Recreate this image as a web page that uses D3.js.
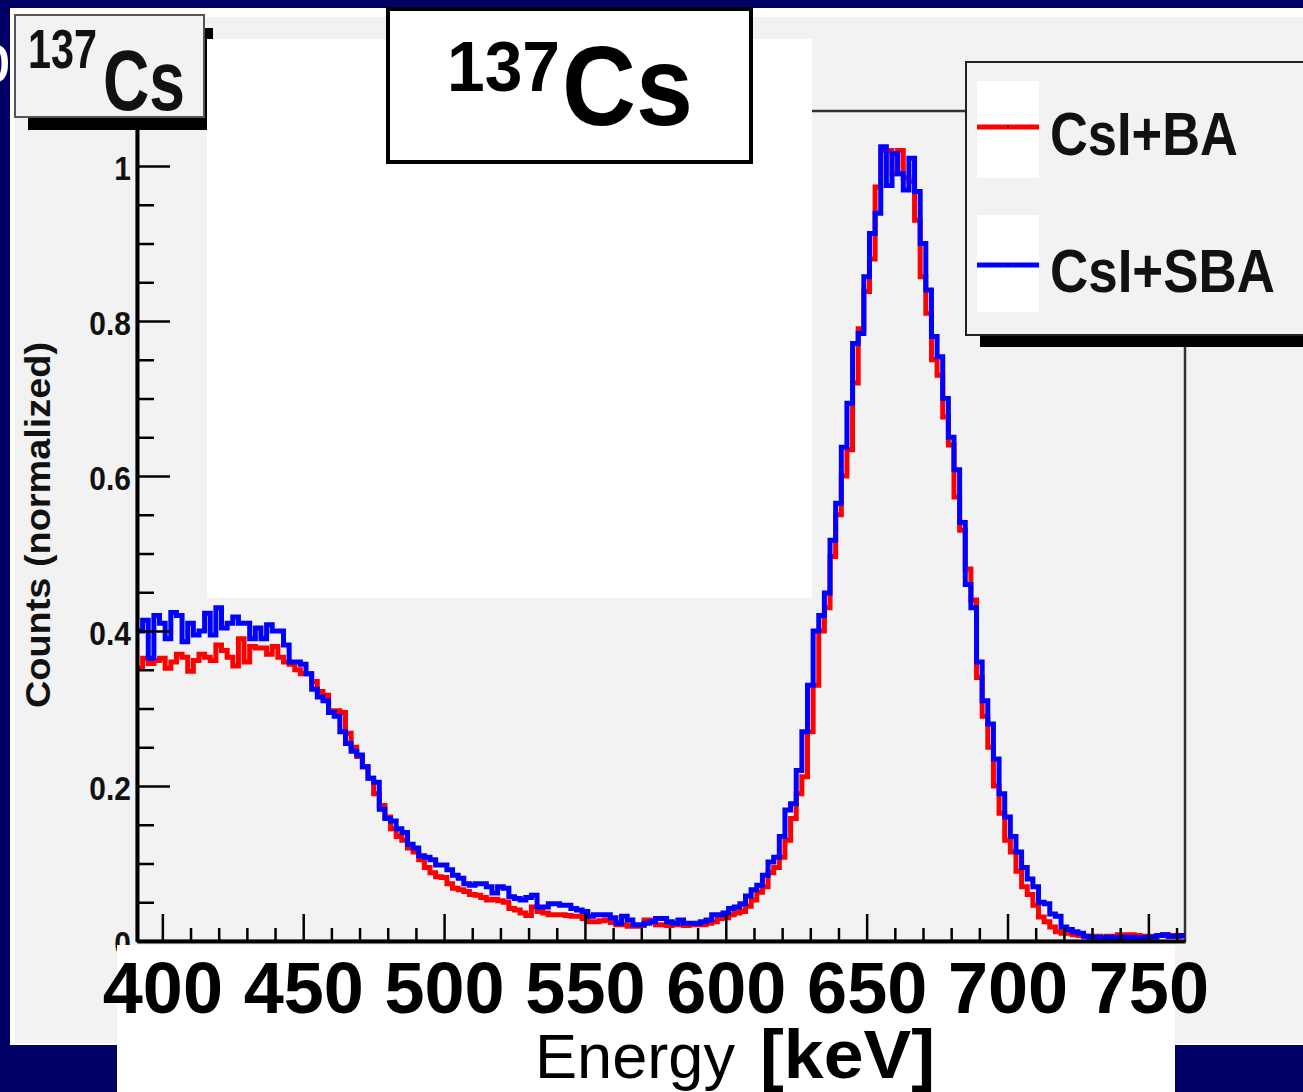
<!DOCTYPE html>
<html><head><meta charset="utf-8">
<script src="https://cdn.jsdelivr.net/npm/d3@7"></script>
<style>html,body{margin:0;padding:0;background:#000066;overflow:hidden}svg{display:block}</style>
</head><body>
<svg id="c" width="1303" height="1092"></svg>
<script>
// ---------- data ----------
const binStart = 391;   // keV, lower edge of first bin
const binWidth = 2;     // keV
const seriesNames = ["CsI+BA", "CsI+SBA"];
const seriesColors = ["#ff0000", "#0000ff"];
const countsBA = [
0.352,0.365,0.358,0.362,0.365,0.352,0.360,0.370,0.366,0.348,
0.362,0.370,0.366,0.362,0.382,0.375,0.366,0.355,0.390,0.360,
0.380,0.378,0.378,0.370,0.380,0.366,0.360,0.357,0.350,0.345,
0.345,0.335,0.322,0.317,0.297,0.297,0.295,0.268,0.250,0.238,
0.225,0.210,0.190,0.175,0.160,0.145,0.135,0.130,0.120,0.115,
0.105,0.095,0.088,0.083,0.082,0.074,0.068,0.066,0.064,0.060,
0.059,0.056,0.053,0.054,0.052,0.050,0.042,0.040,0.036,0.033,
0.044,0.038,0.036,0.034,0.034,0.034,0.033,0.032,0.032,0.029,
0.025,0.025,0.026,0.027,0.024,0.021,0.021,0.019,0.019,0.020,
0.027,0.026,0.021,0.021,0.020,0.021,0.021,0.020,0.021,0.021,
0.021,0.023,0.025,0.029,0.030,0.034,0.036,0.038,0.045,0.053,
0.063,0.070,0.088,0.095,0.108,0.130,0.158,0.190,0.212,0.270,
0.330,0.400,0.430,0.496,0.550,0.600,0.634,0.720,0.790,0.838,
0.880,0.973,1.020,1.020,0.990,1.020,0.985,0.980,0.930,0.857,
0.810,0.750,0.730,0.676,0.640,0.573,0.530,0.480,0.440,0.340,
0.290,0.250,0.200,0.165,0.130,0.115,0.090,0.070,0.060,0.046,
0.031,0.025,0.018,0.012,0.010,0.010,0.008,0.007,0.006,0.006,
0.006,0.005,0.006,0.006,0.008,0.008,0.008,0.007,0.006,0.006,
0.006,0.007,0.008,0.006,0.007,0.006];
const countsSBA = [
0.400,0.414,0.365,0.420,0.410,0.390,0.424,0.420,0.386,0.410,
0.395,0.400,0.423,0.395,0.430,0.404,0.410,0.418,0.410,0.410,
0.390,0.404,0.390,0.408,0.400,0.400,0.382,0.360,0.360,0.357,
0.345,0.325,0.315,0.310,0.295,0.290,0.270,0.255,0.245,0.240,
0.225,0.210,0.205,0.170,0.158,0.155,0.145,0.140,0.125,0.120,
0.110,0.108,0.105,0.098,0.098,0.092,0.085,0.081,0.074,0.072,
0.074,0.074,0.070,0.062,0.070,0.068,0.057,0.055,0.053,0.056,
0.059,0.044,0.044,0.048,0.048,0.046,0.046,0.042,0.040,0.038,
0.032,0.034,0.034,0.034,0.030,0.023,0.032,0.027,0.021,0.021,
0.023,0.025,0.029,0.029,0.025,0.023,0.027,0.023,0.023,0.023,
0.025,0.027,0.034,0.034,0.036,0.042,0.044,0.048,0.058,0.066,
0.072,0.085,0.102,0.108,0.135,0.169,0.177,0.220,0.270,0.330,
0.400,0.420,0.449,0.517,0.565,0.637,0.694,0.771,0.784,0.857,
0.913,0.939,1.025,0.975,1.016,0.990,0.969,1.010,0.967,0.900,
0.840,0.780,0.754,0.700,0.650,0.608,0.540,0.460,0.430,0.360,
0.310,0.280,0.235,0.190,0.160,0.135,0.115,0.095,0.080,0.070,
0.050,0.048,0.035,0.032,0.018,0.015,0.012,0.010,0.006,0.005,
0.005,0.004,0.005,0.004,0.005,0.004,0.005,0.004,0.004,0.005,
0.005,0.007,0.008,0.006,0.006,0.007];
const xTickValues = [400, 450, 500, 550, 600, 650, 700, 750];
const xTickLabels = ["400", "450", "500", "550", "600", "650", "700", "750"];
const yTickValues = [0, 0.2, 0.4, 0.6, 0.8, 1];
const yTickLabels = ["0", "0.2", "0.4", "0.6", "0.8", "1"];
const xDomain = [391, 763];
const yDomain = [0, 1.071];
const titleMass = "137", titleElement = "Cs";
const yTitle = "Counts (normalized)";
const xTitleWord = "Energy", xTitleUnit = "[keV]";

// ---------- drawing ----------
const FONT = "'Liberation Sans', Arial, Helvetica, sans-serif";
const svg = d3.select("#c");
const W = 1303, H = 1092;

svg.append("rect").attr("width", W).attr("height", H).attr("fill", "#000066");
svg.append("rect").attr("x", 10).attr("y", 8).attr("width", W).attr("height", 1037).attr("fill", "#ffffff");
svg.append("rect").attr("x", 15).attr("y", 17).attr("width", W).attr("height", 1026).attr("fill", "#f2f2f2");

// stray white glyph at the slide edge
svg.append("text").attr("x", -28).attr("y", 82).attr("fill", "#fff")
  .style("font", `70px ${FONT}`).text("b");

const x = d3.scaleLinear().domain(xDomain).range([137, 1185]);
const y = d3.scaleLinear().domain(yDomain).range([941, 111]);

// frame
svg.append("rect").attr("x", x(xDomain[0])).attr("y", y(yDomain[1]))
  .attr("width", x(xDomain[1]) - x(xDomain[0])).attr("height", y(0) - y(yDomain[1]))
  .attr("fill", "none").attr("stroke", "#333").attr("stroke-width", 2.5);

// histograms
function stepPoints(vals) {
  const pts = vals.map((v, i) => [binStart + i * binWidth, v]);
  pts.push([binStart + vals.length * binWidth, vals[vals.length - 1]]);
  return pts;
}
const line = d3.line().x(d => x(d[0])).y(d => y(d[1])).curve(d3.curveStepAfter);
[countsBA, countsSBA].forEach((vals, i) => {
  svg.append("path").attr("d", line(stepPoints(vals)))
    .attr("fill", "none").attr("stroke", seriesColors[i])
    .attr("stroke-width", 5).attr("stroke-linejoin", "miter");
});

// y axis
const yMinor = d3.range(0, 22).filter(i => i % 4 !== 0).map(i => i * 0.05).filter(v => v <= yDomain[1]);
svg.append("g").attr("transform", `translate(${x(xDomain[0])},0)`)
  .call(d3.axisLeft(y).tickValues(yMinor).tickSize(-17).tickSizeOuter(0).tickFormat(""))
  .call(g => g.select(".domain").remove())
  .call(g => g.selectAll(".tick line").attr("stroke", "#000").attr("stroke-width", 2.5));
const gy = svg.append("g").attr("transform", `translate(${x(xDomain[0])},0)`)
  .call(d3.axisLeft(y).tickValues(yTickValues).tickSize(-33).tickSizeOuter(0).tickPadding(7)
    .tickFormat((d, i) => yTickLabels[i]));
gy.select(".domain").attr("stroke", "#000").attr("stroke-width", 4);
gy.selectAll(".tick line").attr("stroke", "#000").attr("stroke-width", 2.5);
gy.selectAll(".tick text").attr("dy", "0.4em").attr("fill", "#111")
  .attr("transform", "scale(0.88,1)")
  .style("font", `bold 34px ${FONT}`);

// y title
svg.append("text").attr("transform", "translate(50,525) rotate(-90)")
  .attr("text-anchor", "middle").attr("fill", "#111")
  .attr("textLength", 366).attr("lengthAdjust", "spacingAndGlyphs")
  .style("font", `bold 35px ${FONT}`).text(yTitle);

// x axis ticks
const xMinor = d3.range(400, 761, 10).filter(v => v % 50 !== 0);
svg.append("g").attr("transform", `translate(0,${y(0)})`)
  .call(d3.axisBottom(x).tickValues(xMinor).tickSize(-13).tickSizeOuter(0).tickFormat(""))
  .call(g => g.select(".domain").remove())
  .call(g => g.selectAll(".tick line").attr("stroke", "#000").attr("stroke-width", 2.5));
const gxTicks = svg.append("g").attr("transform", `translate(0,${y(0)})`)
  .call(d3.axisBottom(x).tickValues(xTickValues).tickSize(-27).tickSizeOuter(0).tickFormat(""));
gxTicks.select(".domain").attr("stroke", "#000").attr("stroke-width", 4);
gxTicks.selectAll(".tick line").attr("stroke", "#000").attr("stroke-width", 2.5);

// small title pave (top-left)
svg.append("rect").attr("x", 28).attr("y", 28).attr("width", 185).attr("height", 102).attr("fill", "#000");
svg.append("rect").attr("x", 15).attr("y", 15).attr("width", 189).attr("height", 102)
  .attr("fill", "#f2f2f2").attr("stroke", "#555").attr("stroke-width", 2);
svg.append("text").attr("x", 28).attr("y", 68).attr("textLength", 69).attr("lengthAdjust", "spacingAndGlyphs")
  .style("font", `bold 56px ${FONT}`).attr("fill", "#111").text(titleMass);
svg.append("text").attr("x", 103).attr("y", 110).attr("textLength", 82).attr("lengthAdjust", "spacingAndGlyphs")
  .style("font", `bold 86px ${FONT}`).attr("fill", "#111").text(titleElement);

// white overlay block
svg.append("rect").attr("x", 207).attr("y", 39).attr("width", 605).attr("height", 559).attr("fill", "#fff");

// big title box
svg.append("rect").attr("x", 388).attr("y", 9).attr("width", 363).attr("height", 153)
  .attr("fill", "#fff").attr("stroke", "#000").attr("stroke-width", 4);
svg.append("text").attr("x", 447).attr("y", 91).attr("textLength", 113).attr("lengthAdjust", "spacingAndGlyphs")
  .style("font", `bold 70px ${FONT}`).attr("fill", "#000").text(titleMass);
svg.append("text").attr("x", 562).attr("y", 125).attr("textLength", 131).attr("lengthAdjust", "spacingAndGlyphs")
  .style("font", `bold 114px ${FONT}`).attr("fill", "#000").text(titleElement);

// legend
svg.append("rect").attr("x", 980).attr("y", 74).attr("width", 400).attr("height", 273).attr("fill", "#000");
svg.append("rect").attr("x", 966).attr("y", 62).attr("width", 400).attr("height", 273)
  .attr("fill", "#f2f2f2").attr("stroke", "#222").attr("stroke-width", 2);
const legendRows = [{top: 81, lineY: 127, base: 155, len: 188}, {top: 215, lineY: 265, base: 292, len: 225}];
seriesNames.forEach((name, i) => {
  const r = legendRows[i];
  svg.append("rect").attr("x", 977).attr("y", r.top).attr("width", 62).attr("height", 97).attr("fill", "#fff");
  svg.append("line").attr("x1", 977).attr("x2", 1039).attr("y1", r.lineY).attr("y2", r.lineY)
    .attr("stroke", seriesColors[i]).attr("stroke-width", 5);
  svg.append("circle").attr("cx", 1008).attr("cy", r.lineY).attr("r", 1).attr("fill", "#000");
  svg.append("text").attr("x", 1050).attr("y", r.base).attr("textLength", r.len).attr("lengthAdjust", "spacingAndGlyphs")
    .style("font", `bold 62px ${FONT}`).attr("fill", "#111").text(name);
});

// bottom white label block
svg.append("rect").attr("x", 117).attr("y", 945).attr("width", 1058).attr("height", 147).attr("fill", "#fff");

// x tick labels
const gxLab = svg.append("g").attr("transform", `translate(0,${y(0)})`)
  .call(d3.axisBottom(x).tickValues(xTickValues).tickSize(0).tickFormat((d, i) => xTickLabels[i]));
gxLab.select(".domain").remove();
gxLab.selectAll(".tick text").attr("y", 72).attr("dy", 0).attr("fill", "#000")
  .style("font", `bold 72px ${FONT}`);

// x title
svg.append("text").attr("x", 535).attr("y", 1078).attr("textLength", 200).attr("lengthAdjust", "spacingAndGlyphs")
  .style("font", `63px ${FONT}`).attr("fill", "#000").text(xTitleWord);
svg.append("text").attr("x", 760).attr("y", 1078).attr("textLength", 175).attr("lengthAdjust", "spacingAndGlyphs")
  .style("font", `bold 68px ${FONT}`).attr("fill", "#000").text(xTitleUnit);
</script>
</body></html>
